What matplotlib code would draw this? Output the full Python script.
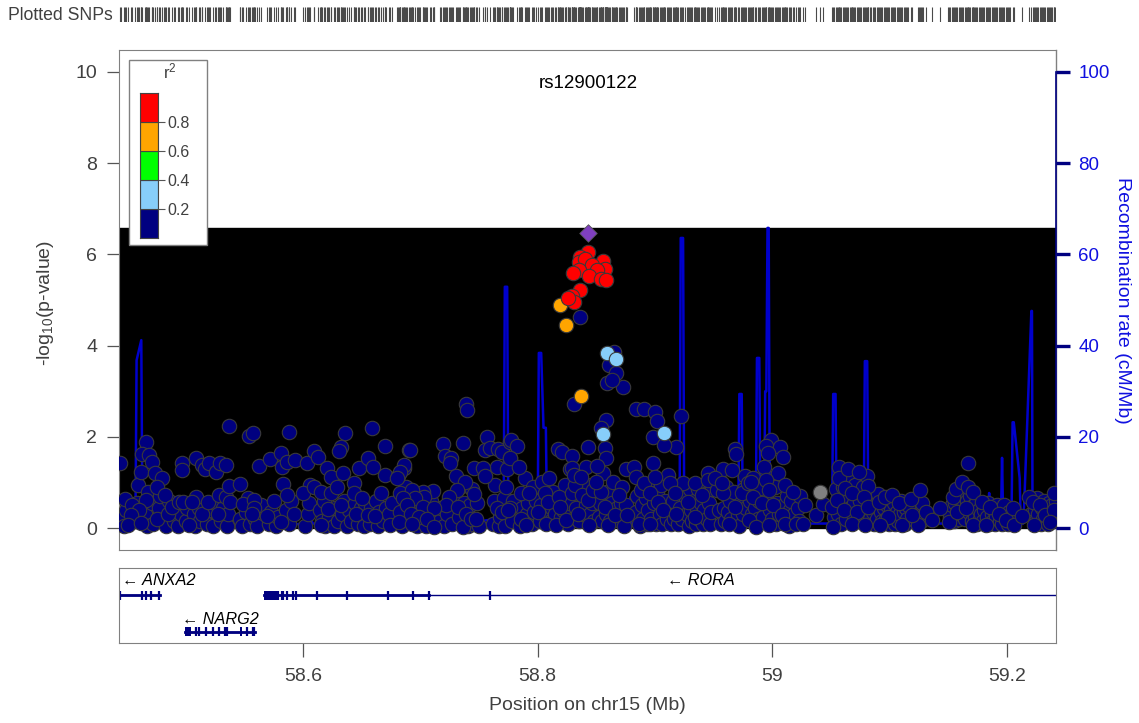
import numpy as np
import matplotlib
matplotlib.use("Agg")
import matplotlib.pyplot as plt
from matplotlib.patches import Rectangle

plt.rcParams['font.family'] = ['Liberation Sans', 'DejaVu Sans']
plt.rcParams['mathtext.fontset'] = 'custom'
plt.rcParams['mathtext.rm'] = 'Liberation Sans'
plt.rcParams['mathtext.it'] = 'Liberation Sans:italic'

# --- data (Mb, -log10 p) ---
navy_pos = [
    58.537, 58.554, 58.557, 58.588, 58.659, 58.636, 58.632, 58.631, 58.670, 58.690,
    58.466, 58.463, 58.469, 58.471, 58.444, 58.462, 58.474, 58.480, 58.475, 58.482,
    58.466, 58.448, 58.454, 58.460, 58.453, 58.451, 58.462, 58.475, 58.485, 58.488,
    58.494, 58.498, 58.497, 58.497, 58.503, 58.509, 58.509, 58.505, 58.514, 58.516,
    58.520, 58.526, 58.529, 58.534, 58.514, 58.519, 58.527, 58.528, 58.534, 58.538,
    58.537, 58.546, 58.549, 58.558, 58.558, 58.556, 58.562, 58.569, 58.572, 58.581,
    58.582, 58.586, 58.593, 58.583, 58.586, 58.581, 58.603, 58.609, 58.613, 58.620,
    58.624, 58.600, 58.609, 58.615, 58.624, 58.629, 58.634, 58.621, 58.632, 58.615,
    58.643, 58.643, 58.650, 58.645, 58.655, 58.661, 58.648, 58.655, 58.660, 58.670,
    58.666, 58.674, 58.683, 58.681, 58.686, 58.683,
    58.739, 58.740, 58.691, 58.719, 58.736, 58.721, 58.726, 58.725, 58.757, 58.755,
    58.759, 58.766, 58.770, 58.776, 58.776, 58.765, 58.774, 58.686, 58.683, 58.680,
    58.746, 58.753, 58.755, 58.730, 58.738, 58.731, 58.711, 58.702, 58.693, 58.703,
    58.695, 58.685, 58.746, 58.724, 58.722, 58.732, 58.689, 58.702, 58.712, 58.692,
    58.699, 58.706, 58.682, 58.693, 58.712, 58.736, 58.739, 58.743, 58.747, 58.765,
    58.770, 58.776,
    58.836, 58.831, 58.865, 58.861, 58.867, 58.859, 58.873, 58.863, 58.858, 58.854,
    58.884, 58.891, 58.900, 58.902, 58.898, 58.922, 58.918, 58.908, 58.843, 58.857,
    58.858, 58.817, 58.821, 58.829, 58.777, 58.782, 58.776, 58.784, 58.810, 58.829,
    58.841, 58.851, 58.875, 58.882, 58.884, 58.898, 58.911, 58.924, 58.934, 58.945,
    58.958, 58.968, 58.969, 58.977,
    58.775, 58.786, 58.793, 58.786, 58.790, 58.800, 58.806, 58.809, 58.807, 58.818,
    58.819, 58.816, 58.824, 58.829, 58.832, 58.831, 58.837, 58.838, 58.834, 58.844,
    58.843, 58.847, 58.854, 58.850, 58.857, 58.860, 58.866, 58.869, 58.876, 58.886,
    58.896, 58.888, 58.891, 58.896, 58.900, 58.903, 58.907, 58.913, 58.917, 58.918,
    58.928, 58.934, 58.940, 58.945, 58.953, 58.958, 58.963, 58.968, 58.974, 58.980,
    58.951, 58.957, 58.966, 58.979, 58.984, 58.990,
    58.999, 58.995, 59.007, 58.996, 59.009, 58.993, 58.982, 58.995, 59.011, 59.018,
    58.997, 58.984, 58.991, 59.001, 59.008, 58.986, 58.997, 59.011, 59.020, 59.026,
    59.028, 59.037, 59.043, 59.052, 59.051, 59.057, 59.057, 59.065, 59.074, 59.082,
    59.062, 59.068, 59.078, 59.055, 59.061, 59.072, 59.082, 59.068, 59.079, 59.091,
    59.096, 59.102, 59.108, 59.118, 59.126, 59.099, 59.092, 59.111, 59.124, 59.119,
    59.131, 59.136, 59.143, 59.151, 59.154, 59.157, 59.162, 59.167, 59.167, 59.171,
    59.179, 59.158, 59.165, 59.171, 59.182, 59.186, 59.193, 59.199, 59.206, 59.205,
    59.213, 59.219, 59.222, 59.228, 59.233, 59.223, 59.240, 59.240, 59.237,
]
navy_logp = [
    2.24, 2.02, 2.08, 2.11, 2.20, 2.08, 1.78, 1.70, 1.80, 1.71,
    1.89, 1.62, 1.60, 1.45, 1.43, 1.23, 1.20, 1.09, 0.91, 0.72,
    0.61, 0.63, 0.50, 0.39, 0.29, 0.07, 0.12, 0.21, 0.32, 0.47,
    0.58, 0.58, 1.42, 1.27, 0.07, 1.53, 0.69, 0.58, 1.38, 1.29,
    1.42, 1.23, 1.42, 1.38, 0.32, 0.58, 0.32, 0.72, 0.69, 0.58,
    0.92, 0.96, 0.53, 0.61, 0.43, 0.32, 1.36, 0.26, 1.51, 1.64,
    1.34, 1.45, 1.49, 0.96, 0.72, 0.14, 1.42, 1.70, 1.55, 1.31,
    1.12, 0.76, 0.91, 0.80, 0.76, 0.91, 1.21, 0.41, 0.50, 0.07,
    0.98, 0.76, 0.65, 0.32, 0.29, 0.26, 1.31, 1.54, 1.34, 1.16,
    0.77, 0.07, 0.77, 1.14, 1.31, 0.36,
    2.73, 2.59, 1.71, 1.84, 1.87, 1.58, 1.53, 1.42, 2.00, 1.71,
    1.75, 1.73, 1.67, 1.89, 1.53, 1.34, 1.29, 1.38, 1.23, 1.09,
    1.31, 1.31, 1.14, 1.14, 1.02, 0.83, 0.82, 0.80, 0.83, 0.69,
    0.65, 0.65, 0.75, 0.69, 0.50, 0.47, 0.50, 0.47, 0.43, 0.32,
    0.25, 0.21, 0.14, 0.10, 0.03, 0.03, 0.32, 0.21, 0.21, 0.43,
    0.36, 0.43,
    4.63, 2.73, 3.87, 3.57, 3.39, 3.19, 3.09, 3.25, 2.37, 2.19,
    2.60, 2.60, 2.54, 2.35, 2.00, 2.46, 1.78, 1.82, 1.78, 1.75,
    1.53, 1.73, 1.67, 1.58, 1.93, 1.80, 1.53, 1.34, 1.10, 1.31,
    1.34, 1.36, 1.29, 1.34, 1.12, 1.42, 1.16, 0.99, 0.99, 1.20,
    1.29, 1.73, 1.62, 1.14,
    0.39, 0.76, 0.76, 0.21, 0.07, 0.36, 0.76, 0.58, 0.10, 0.69,
    0.47, 0.07, 0.18, 0.76, 0.94, 1.16, 1.12, 0.72, 0.32, 0.07,
    0.61, 0.83, 0.80, 1.02, 0.47, 0.07, 0.29, 0.72, 0.29, 0.10,
    0.10, 0.83, 0.98, 0.76, 1.12, 0.58, 0.39, 0.98, 0.76, 0.32,
    0.58, 0.25, 0.72, 1.05, 0.83, 0.76, 0.10, 0.47, 0.76, 0.18,
    1.09, 0.98, 1.27, 0.98, 1.10, 0.88,
    1.94, 1.80, 1.78, 1.65, 1.55, 1.34, 1.02, 1.05, 0.94, 0.80,
    0.83, 0.69, 0.54, 0.50, 0.29, 0.03, 0.07, 0.10, 0.10, 0.10,
    0.50, 0.29, 0.52, 0.03, 0.47, 1.34, 1.09, 1.29, 1.23, 0.92,
    0.87, 0.76, 0.69, 0.61, 0.39, 0.36, 0.47, 0.10, 0.07, 0.58,
    0.69, 0.72, 0.54, 0.63, 0.83, 0.25, 0.07, 0.07, 0.07, 0.29,
    0.36, 0.18, 0.43, 0.14, 0.69, 0.85, 1.02, 1.43, 0.91, 0.80,
    0.58, 0.36, 0.43, 0.07, 0.07, 0.47, 0.32, 0.18, 0.07, 0.43,
    0.26, 0.69, 0.58, 0.50, 0.29, 0.07, 0.76, 0.39, 0.14,
]

# low-signal SNPs of the dense bottom band, (Mb, -log10 p)
navy_band = [
    (58.445, 0.25), (58.447, 0.05), (58.449, 0.40), (58.457, 0.15), (58.458, 0.55), (58.459, 0.95),
    (58.465, 0.30), (58.467, 0.05), (58.468, 0.80), (58.471, 0.55), (58.472, 0.10), (58.477, 0.45),
    (58.478, 0.70), (58.481, 0.20), (58.483, 0.05), (58.486, 0.60), (58.490, 0.15), (58.491, 0.40),
    (58.493, 0.05), (58.496, 0.30), (58.500, 0.15), (58.501, 0.45), (58.507, 0.30), (58.508, 0.05),
    (58.511, 0.45), (58.512, 0.15), (58.518, 0.10), (58.521, 0.40), (58.523, 0.05), (58.525, 0.55),
    (58.530, 0.15), (58.532, 0.45), (58.535, 0.05), (58.536, 0.30), (58.546, 0.20), (58.548, 0.05),
    (58.551, 0.35), (58.553, 0.65), (58.555, 0.10), (58.559, 0.20), (58.561, 0.05), (58.564, 0.50),
    (58.571, 0.10), (58.573, 0.35), (58.575, 0.60), (58.577, 0.05), (58.579, 0.25), (58.585, 0.40),
    (58.588, 0.10), (58.590, 0.60), (58.592, 0.30), (58.602, 0.05), (58.604, 0.30), (58.605, 0.55),
    (58.606, 0.95), (58.614, 0.40), (58.616, 0.15), (58.618, 0.60), (58.619, 0.05), (58.622, 0.25),
    (58.626, 0.05), (58.627, 0.45), (58.630, 0.15), (58.633, 0.30), (58.635, 0.60), (58.637, 0.05),
    (58.639, 0.40), (58.641, 0.15), (58.644, 0.55), (58.647, 0.10), (58.649, 0.45), (58.652, 0.05),
    (58.653, 0.55), (58.657, 0.10), (58.658, 0.45), (58.662, 0.60), (58.664, 0.05), (58.665, 0.35),
    (58.668, 0.15), (58.671, 0.45), (58.673, 0.30), (58.676, 0.55), (58.684, 0.05), (58.687, 0.25),
    (58.688, 0.90), (58.694, 0.45), (58.697, 0.05), (58.698, 0.60), (58.700, 0.15), (58.704, 0.35),
    (58.705, 0.05), (58.708, 0.30), (58.709, 0.60), (58.717, 0.15), (58.718, 0.45), (58.720, 0.05),
    (58.723, 0.30), (58.727, 0.10), (58.728, 0.60), (58.733, 0.25), (58.734, 0.90), (58.737, 0.55),
    (58.741, 0.05), (58.742, 0.50), (58.744, 0.85), (58.745, 0.10), (58.748, 0.55), (58.750, 0.05),
    (58.762, 0.10), (58.763, 0.60), (58.764, 0.95), (58.767, 0.05), (58.768, 0.25), (58.771, 0.65),
    (58.772, 0.05), (58.773, 0.90), (58.778, 0.15), (58.779, 0.60), (58.785, 0.05), (58.787, 0.45),
    (58.789, 1.10), (58.791, 0.30), (58.792, 0.55), (58.795, 0.10), (58.796, 0.90), (58.797, 0.35),
    (58.799, 0.60), (58.802, 0.15), (58.803, 0.50), (58.804, 1.00), (58.808, 0.30), (58.811, 0.15),
    (58.812, 0.45), (58.813, 0.80), (58.815, 0.30), (58.817, 0.55), (58.820, 0.25), (58.822, 0.40),
    (58.823, 0.95), (58.826, 0.10), (58.827, 0.55), (58.828, 1.30), (58.833, 0.45), (58.835, 0.15),
    (58.836, 0.85), (58.839, 0.30), (58.841, 0.50), (58.842, 0.95), (58.845, 0.30), (58.846, 0.55),
    (58.848, 0.15), (58.849, 0.65), (58.852, 0.25), (58.853, 0.55), (58.855, 0.15), (58.856, 1.20),
    (58.858, 0.30), (58.859, 0.80), (58.862, 0.15), (58.863, 0.55), (58.864, 1.00), (58.868, 0.45),
    (58.870, 0.15), (58.871, 0.55), (58.872, 0.90), (58.874, 0.05), (58.875, 0.50), (58.884, 0.35),
    (58.885, 0.70), (58.887, 0.05), (58.889, 0.50), (58.890, 0.20), (58.892, 0.65), (58.893, 0.10),
    (58.894, 0.40), (58.895, 0.90), (58.897, 0.20), (58.899, 0.55), (58.901, 0.10), (58.902, 0.80),
    (58.904, 0.30), (58.905, 0.95), (58.906, 0.10), (58.909, 0.60), (58.910, 0.20), (58.912, 0.45),
    (58.914, 0.10), (58.915, 0.60), (58.916, 0.20), (58.919, 0.90), (58.920, 0.10), (58.921, 0.45),
    (58.923, 0.20), (58.926, 0.70), (58.927, 0.30), (58.929, 0.05), (58.930, 0.85), (58.931, 0.40),
    (58.932, 0.15), (58.933, 0.60), (58.935, 0.10), (58.936, 0.45), (58.937, 0.85), (58.938, 0.20),
    (58.939, 0.55), (58.941, 0.10), (58.942, 0.40), (58.943, 0.75), (58.944, 0.20), (58.946, 0.55),
    (58.947, 0.10), (58.948, 0.35), (58.949, 0.85), (58.955, 0.40), (58.956, 0.10), (58.959, 0.45),
    (58.960, 0.15), (58.961, 0.90), (58.962, 0.35), (58.964, 0.60), (58.965, 0.20), (58.967, 0.80),
    (58.971, 0.30), (58.972, 0.05), (58.973, 0.55), (58.975, 0.30), (58.976, 0.85), (58.978, 0.45),
    (58.981, 0.60), (58.983, 0.30), (58.985, 0.45), (58.988, 0.20), (58.989, 0.60), (58.992, 0.25),
    (58.994, 0.70), (58.998, 0.40), (59.000, 0.20), (59.002, 0.90), (59.003, 0.10), (59.004, 0.55),
    (59.005, 1.20), (59.006, 0.30), (59.010, 0.50), (59.012, 0.25), (59.013, 0.70), (59.014, 0.05),
    (59.015, 0.40), (59.016, 0.60), (59.019, 0.30), (59.022, 0.45), (59.023, 0.15), (59.024, 0.70),
    (59.053, 0.25), (59.054, 0.85), (59.056, 0.30), (59.058, 0.55), (59.059, 0.10), (59.060, 0.90),
    (59.063, 0.20), (59.064, 0.65), (59.066, 0.45), (59.067, 1.05), (59.069, 0.30), (59.070, 0.55),
    (59.071, 0.95), (59.073, 0.15), (59.075, 0.60), (59.076, 0.30), (59.077, 0.90), (59.080, 0.30),
    (59.081, 1.15), (59.083, 0.20), (59.084, 0.65), (59.086, 0.35), (59.087, 0.10), (59.088, 0.50),
    (59.089, 0.20), (59.090, 0.75), (59.093, 0.35), (59.094, 0.15), (59.095, 0.45), (59.097, 0.20),
    (59.098, 0.50), (59.100, 0.10), (59.101, 0.40), (59.103, 0.20), (59.104, 0.55), (59.105, 0.10),
    (59.106, 0.35), (59.107, 0.15), (59.109, 0.30), (59.110, 0.60), (59.112, 0.35), (59.113, 0.10),
    (59.114, 0.45), (59.115, 0.20), (59.116, 0.50), (59.125, 0.30), (59.127, 0.15), (59.128, 0.55),
    (59.129, 0.25), (59.150, 0.40), (59.152, 0.25), (59.153, 0.50), (59.155, 0.15), (59.156, 0.55),
    (59.159, 0.20), (59.160, 0.65), (59.161, 0.30), (59.163, 0.75), (59.164, 0.20), (59.166, 0.60),
    (59.168, 0.35), (59.169, 0.70), (59.170, 0.15), (59.172, 0.50), (59.173, 0.25), (59.174, 0.55),
    (59.175, 0.10), (59.176, 0.40), (59.177, 0.20), (59.178, 0.30), (59.180, 0.15), (59.181, 0.40),
    (59.183, 0.25), (59.184, 0.55), (59.185, 0.10), (59.187, 0.30), (59.188, 0.15), (59.189, 0.40),
    (59.190, 0.10), (59.191, 0.25), (59.192, 0.50), (59.194, 0.15), (59.195, 0.40), (59.196, 0.10),
    (59.197, 0.30), (59.198, 0.50), (59.200, 0.25), (59.201, 0.10), (59.202, 0.35), (59.203, 0.15),
    (59.221, 0.30), (59.224, 0.40), (59.225, 0.15), (59.226, 0.65), (59.227, 0.30), (59.229, 0.10),
    (59.230, 0.45), (59.231, 0.20), (59.232, 0.60), (59.234, 0.40), (59.235, 0.10), (59.236, 0.55),
    (59.238, 0.30), (59.239, 0.50), (59.241, 0.20), (59.242, 0.60),
]

lightblue_pos = [58.859, 58.867, 58.856, 58.908]
lightblue_logp = [3.83, 3.70, 2.06, 2.08]

orange_pos = [58.819, 58.824, 58.837]
orange_logp = [4.88, 4.45, 2.89]

red_pos = [58.843, 58.836, 58.835, 58.840, 58.856, 58.846, 58.835, 58.830, 58.857,
           58.851, 58.844, 58.854, 58.858, 58.836, 58.829, 58.831, 58.826]
red_logp = [6.05, 5.94, 5.84, 5.89, 5.86, 5.77, 5.66, 5.59, 5.67,
            5.66, 5.53, 5.47, 5.44, 5.22, 5.09, 4.96, 5.04]

gray_pos = [59.041]
gray_logp = [0.80]

lead_name = 'rs12900122'
lead_pos = 58.843
lead_logp = 6.47

# recombination rate (cM/Mb)
rec_pos = [58.443, 58.457, 58.458, 58.462, 58.463, 58.470, 58.475, 58.478, 58.570, 58.577,
           58.580, 58.600, 58.605, 58.608, 58.660, 58.690, 58.735, 58.765, 58.771, 58.772,
           58.774, 58.775, 58.800, 58.801, 58.803, 58.805, 58.807, 58.808, 58.850, 58.878,
           58.879, 58.880, 58.921, 58.922, 58.924, 58.925, 58.950, 58.971, 58.972, 58.974,
           58.975, 58.986, 58.987, 58.989, 58.990, 58.993, 58.994, 58.995, 58.996, 58.997,
           58.998, 59.051, 59.052, 59.054, 59.055, 59.078, 59.079, 59.081, 59.082, 59.184,
           59.185, 59.186, 59.195, 59.196, 59.197, 59.204, 59.205, 59.206, 59.211, 59.212,
           59.214, 59.215, 59.221, 59.2215, 59.222, 59.244]
rec_rate = [0.5, 0.8, 36.8, 41.2, 1.0, 1.5, 3.0, 0.8, 0.5, 2.5,
            0.5, 1.0, 4.0, 1.0, 0.8, 1.2, 1.0, 2.0, 1.5, 52.9,
            52.9, 2.0, 1.5, 38.4, 38.4, 22.0, 22.0, 1.0, 1.0, 0.5,
            6.8, 0.5, 1.0, 63.6, 63.6, 1.0, 1.0, 1.0, 29.4, 29.4,
            1.0, 1.0, 37.3, 37.3, 1.0, 1.0, 30.0, 30.0, 65.8, 65.8,
            1.0, 1.0, 29.4, 29.4, 1.0, 1.0, 36.6, 36.6, 1.0, 1.0,
            7.7, 1.0, 1.0, 15.4, 1.0, 1.0, 23.2, 23.2, 11.0, 1.0,
            1.0, 6.0, 47.6, 47.6, 1.0, 0.8]

# genes
gene_names = ['ANXA2', 'RORA', 'NARG2']
gene_start = [58.430, 58.567, 58.499]
gene_end = [58.478, 59.300, 58.559]
gene_thick_end = [58.478, 58.707, 58.559]
gene_row = [0, 0, 1]
gene_label_x = [58.4456, 58.910, 58.497]
gene_blocks = [[], [(58.567, 58.578)], [(58.499, 58.504), (58.546, 58.548)]]
gene_exons = [
    [58.4437, 58.463, 58.466, 58.470, 58.477],
    [58.579, 58.582, 58.583, 58.586, 58.591, 58.594, 58.612, 58.637, 58.672, 58.694, 58.707, 58.759],
    [58.509, 58.511, 58.517, 58.523, 58.528, 58.533, 58.535, 58.552, 58.557, 58.558],
]

r2_edges = [0.0, 0.2, 0.4, 0.6, 0.8, 1.0]
r2_colors = ['#000080', '#87CEFA', '#00FF00', '#FFA500', '#FF0000']

xlim = (58.443, 59.242)
xticks = [58.6, 58.8, 59.0, 59.2]
xticklabels = ['58.6', '58.8', '59', '59.2']

band_pos = [p for p, _ in navy_band]
band_logp = [v for _, v in navy_band]

W, H = 1139, 723
fig = plt.figure(figsize=(W / 100, H / 100), dpi=100)
x0, x1 = 119 / W, 1056 / W
ax_rug = fig.add_axes([x0, 1 - 22 / H, x1 - x0, 15 / H])
ax = fig.add_axes([x0, 1 - 550 / H, x1 - x0, 500 / H])
ax2 = ax.twinx()
ax_gene = fig.add_axes([x0, 1 - 643 / H, x1 - x0, 75 / H])

txt = '#404040'
frame = '#808080'

# rug of plotted SNPs
all_pos = navy_pos + band_pos + lightblue_pos + orange_pos + red_pos + gray_pos + [lead_pos]
ax_rug.vlines(all_pos, 0, 1, color='#4a4a4a', lw=0.8)
ax_rug.set_xlim(xlim)
ax_rug.set_ylim(0, 1)
ax_rug.axis('off')
fig.text(8 / W, 1 - 15 / H, 'Plotted SNPs', va='center', ha='left', fontsize=12.7, color=txt)

# recombination layer
ax2.set_ylim(-4.8, 104.8)
ax2.axhspan(0, max(rec_rate), color='black', zorder=1)
ax2.plot(rec_pos, rec_rate, color='#0000CC', lw=1.8, zorder=2)
for s in ['top', 'left', 'bottom']:
    ax2.spines[s].set_visible(False)
ax2.plot([1, 1], [0, 1], transform=ax2.transAxes, color=frame, lw=1, clip_on=False, zorder=0)
ax2.spines['right'].set_bounds(0, 100)
ax2.spines['right'].set_color('#000080')
ax2.spines['right'].set_linewidth(1.2)
ax2.set_yticks([0, 20, 40, 60, 80, 100])
ax2.tick_params(axis='y', length=10, width=2.4, color='#000080', labelcolor='#1010E0',
                labelsize=13.5, pad=6)
fig.text(1122 / W, 1 - 300 / H, 'Recombination rate (cM/Mb)', rotation=270,
         ha='center', va='center', fontsize=14, color='#1010E0')

# association layer
ax.set_zorder(ax2.get_zorder() + 1)
ax.patch.set_visible(False)
ax.set_xlim(xlim)
ax.set_ylim(-0.48, 10.48)
pt = dict(s=108, edgecolors='#3a3a3a', linewidths=0.8, zorder=3)
ax.scatter(band_pos, band_logp, c=r2_colors[0], **pt)
ax.scatter(navy_pos, navy_logp, c=r2_colors[0], **pt)
ax.scatter(gray_pos, gray_logp, c='#808080', **pt)
ax.scatter(lightblue_pos, lightblue_logp, c=r2_colors[1], **pt)
ax.scatter(orange_pos, orange_logp, c=r2_colors[3], **pt)
ax.scatter(red_pos, red_logp, c=r2_colors[4], **pt)
ax.scatter([lead_pos], [lead_logp], marker='D', s=80, c='#7F3FBF', edgecolors='#555555',
           linewidths=0.6, zorder=4)
ax.text(lead_pos, 9.74, lead_name, ha='center', va='center', fontsize=13.5, color='black')

ax.set_xticks([])
ax.set_yticks([0, 2, 4, 6, 8, 10])
ax.tick_params(axis='y', length=8.6, width=0.9, color='#555555', labelcolor=txt,
               labelsize=14, pad=7)
for s in ['top', 'left', 'bottom']:
    ax.spines[s].set_color(frame)
ax.spines['right'].set_visible(False)
fig.text(46 / W, 1 - 303 / H, '-log$_{10}$(p-value)', rotation=90,
         ha='center', va='center', fontsize=14, color=txt)

# r2 legend
ax.add_patch(Rectangle((0.0107, 0.61), 0.0832, 0.37, transform=ax.transAxes,
                       facecolor='white', edgecolor=frame, lw=1, zorder=6))
cax = ax.inset_axes([0.0224, 0.624, 0.0192, 0.29])
cax.set_zorder(7)
cax.bar([0] * 5, np.diff(r2_edges), bottom=r2_edges[:-1], width=1, color=r2_colors,
        edgecolor='#444444', lw=0.8)
cax.set_xlim(-0.5, 0.5)
cax.set_ylim(0, 1)
cax.set_xticks([])
cax.set_yticks(r2_edges[1:-1])
cax.set_yticklabels([f'{v:.1f}' for v in r2_edges[1:-1]])
cax.yaxis.tick_right()
cax.tick_params(axis='y', length=5, width=0.8, color='#555555', labelcolor=txt,
                labelsize=11.5, pad=2)
for s in cax.spines.values():
    s.set_color('#444444')
ax.text(0.0544, 0.957, r'r$\mathregular{^2}$', transform=ax.transAxes, ha='center',
        va='center', fontsize=12, color=txt, zorder=8)

# gene track
row_y = [0.36, 0.853]
label_y = [0.173, 0.68]
gene_col = '#000080'
for i, name in enumerate(gene_names):
    y = row_y[gene_row[i]]
    ax_gene.plot([gene_start[i], gene_thick_end[i]], [y, y], color=gene_col, lw=2.0)
    ax_gene.plot([gene_start[i], gene_end[i]], [y, y], color=gene_col, lw=1.0)
    ax_gene.vlines(gene_exons[i], y - 0.06, y + 0.06, color=gene_col, lw=1.6)
    for b0, b1 in gene_blocks[i]:
        ax_gene.add_patch(Rectangle((b0, y - 0.06), b1 - b0, 0.12, color=gene_col, lw=0))
    ax_gene.text(gene_label_x[i], label_y[gene_row[i]], '\u2190 ' + name, ha='left',
                 va='center', fontsize=11.7, style='italic', color='black')
ax_gene.set_xlim(xlim)
ax_gene.set_ylim(1, 0)
ax_gene.set_yticks([])
ax_gene.set_xticks(xticks)
ax_gene.set_xticklabels(xticklabels)
ax_gene.tick_params(axis='x', length=10, width=0.9, color='#555555', labelcolor=txt,
                    labelsize=14, pad=8)
for s in ax_gene.spines.values():
    s.set_color(frame)
fig.text(0.5 * (x0 + x1), 1 - 706 / H, 'Position on chr15 (Mb)', ha='center', va='center',
         fontsize=14, color=txt)

fig.savefig('out.png', dpi=100, facecolor='white')
